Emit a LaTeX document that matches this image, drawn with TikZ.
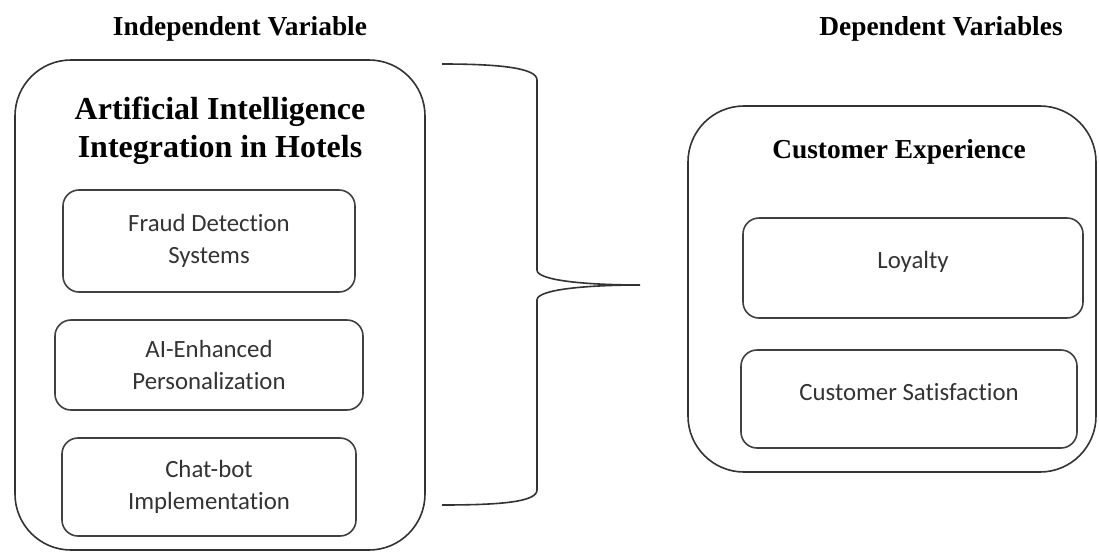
\documentclass[tikz,border=0pt]{standalone}
\usepackage{fontspec}
\setmainfont{Liberation Serif}
\newfontfamily\bodyfont[Ligatures=NoCommon]{Carlito}
\usepackage{tikz}
\usetikzlibrary{positioning}

\begin{document}
\begin{tikzpicture}[x=0.5pt, y=-0.5pt,
    varbox/.style={draw=black!80, line width=0.8pt, rounded corners=28pt, inner sep=0pt},
    itembox/.style={draw=black!75, line width=0.8pt, rounded corners=8pt, inner sep=0pt,
      align=center, font=\bodyfont\fontsize{12.4}{16}\selectfont, text=black!80},
    headtxt/.style={font=\bfseries\fontsize{13.7}{16}\selectfont, anchor=base},
    titletxt/.style={font=\bfseries\fontsize{16}{19}\selectfont, anchor=base, align=center}]
  \useasboundingbox (0,0) rectangle (1099,552);

  % INDEPENDENT
  \node[headtxt] (indep) at (240,35) {Independent Variable};
  \node[varbox, minimum width=205pt, minimum height=245pt] (aibox) at (220,305) {};
  \node[titletxt] (aititle) at (220,157) {Artificial Intelligence\\Integration in Hotels};
  \node[itembox, minimum width=146pt, minimum height=51pt] (fraud) at (209,241)
    {Fraud Detection\\Systems};
  \node[itembox, minimum width=154pt, minimum height=45pt] (perso) at (209,365)
    {AI-Enhanced\\Personalization};
  \node[itembox, minimum width=147pt, minimum height=49pt] (chatbot) at (209,487)
    {Chat-bot\\Implementation};

  % Accolade
  \draw[black!80, line width=0.8pt] (442,64) .. controls (500,64) and (537,68) .. (537,80)
    -- (537,270) .. controls (537,281) and (590,285) .. (640,285)
    .. controls (590,285) and (537,289) .. (537,300)
    -- (537,490) .. controls (537,502) and (500,505) .. (442,505);

  % DEPENDENT
  \node[headtxt] (dep) at (941,35) {Dependent Variables};
  \node[varbox, minimum width=204pt, minimum height=183pt] (cxbox) at (892,289) {};
  \node[headtxt] (cxtitle) at (899,158) {Customer Experience};
  \node[itembox, minimum width=170pt, minimum height=50pt, text depth=8pt] (loyal) at (913,268) {Loyalty};
  \node[itembox, minimum width=168pt, minimum height=49pt, text depth=7pt] (satis) at (909,399)
    {Customer Satisfaction};
\end{tikzpicture}
\end{document}
